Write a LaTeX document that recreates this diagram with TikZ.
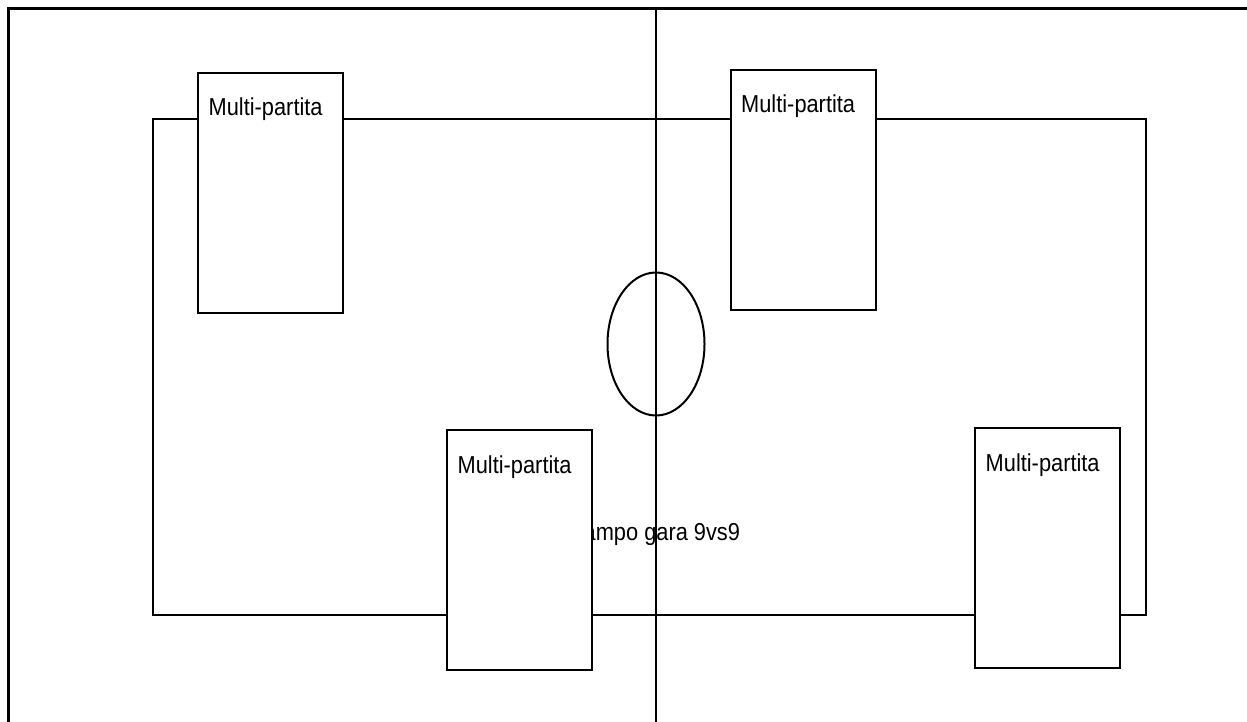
\documentclass[tikz,border=0pt]{standalone}
\usepackage{fontspec}
\setmainfont{Liberation Sans}
\usetikzlibrary{shapes.geometric}
\begin{document}
\begin{tikzpicture}[x=1pt,y=-1pt,
  frameline/.style={line width=2.6pt},
  thinline/.style={line width=2pt},
  teambox/.style={draw, thinline, fill=white, rectangle, inner sep=0pt,
    minimum width=145, minimum height=240, anchor=north west},
  boxlabel/.style={anchor=base west, inner sep=0pt, font=\fontsize{24.5}{29}\selectfont},
]
\useasboundingbox (0,0) rectangle (1247,722);
% outer frame (clipped at right and bottom)
\coordinate (fbl) at (8.5,722);
\coordinate (ftl) at (8.5,8.5);
\coordinate (ftr) at (1247,8.5);
\draw[frameline] (fbl) -- (ftl) -- (ftr);
% pitch
\node[draw, thinline, rectangle, inner sep=0pt, minimum width=993, minimum height=496, anchor=north west] (pitch) at (152,118) {};
% centre text
\node[anchor=base, inner sep=0pt, font=\fontsize{24.5}{29}\selectfont] (title) at (654,540) {\scalebox{0.89}[1]{Campo gara 9vs9}};
% centre circle
\node[draw, thinline, ellipse, inner sep=0pt, minimum width=97, minimum height=143] (circ) at (656,344) {};
% boxes
\node[teambox] (b1) at (197,72) {};
\node[teambox] (b2) at (729.5,69) {};
\node[teambox] (b3) at (446,429) {};
\node[teambox] (b4) at (974,427) {};
\foreach \b in {b1,b2,b3,b4}{
  \node[boxlabel] (\b t) at ([shift={(11.5,44)}]\b.north west) {\scalebox{0.89}[1]{Multi-partita}};
}
% midline
\coordinate (mtop) at (656,8.5);
\coordinate (mbot) at (656,722);
\draw[thinline] (mtop) -- (mbot);
\end{tikzpicture}
\end{document}
